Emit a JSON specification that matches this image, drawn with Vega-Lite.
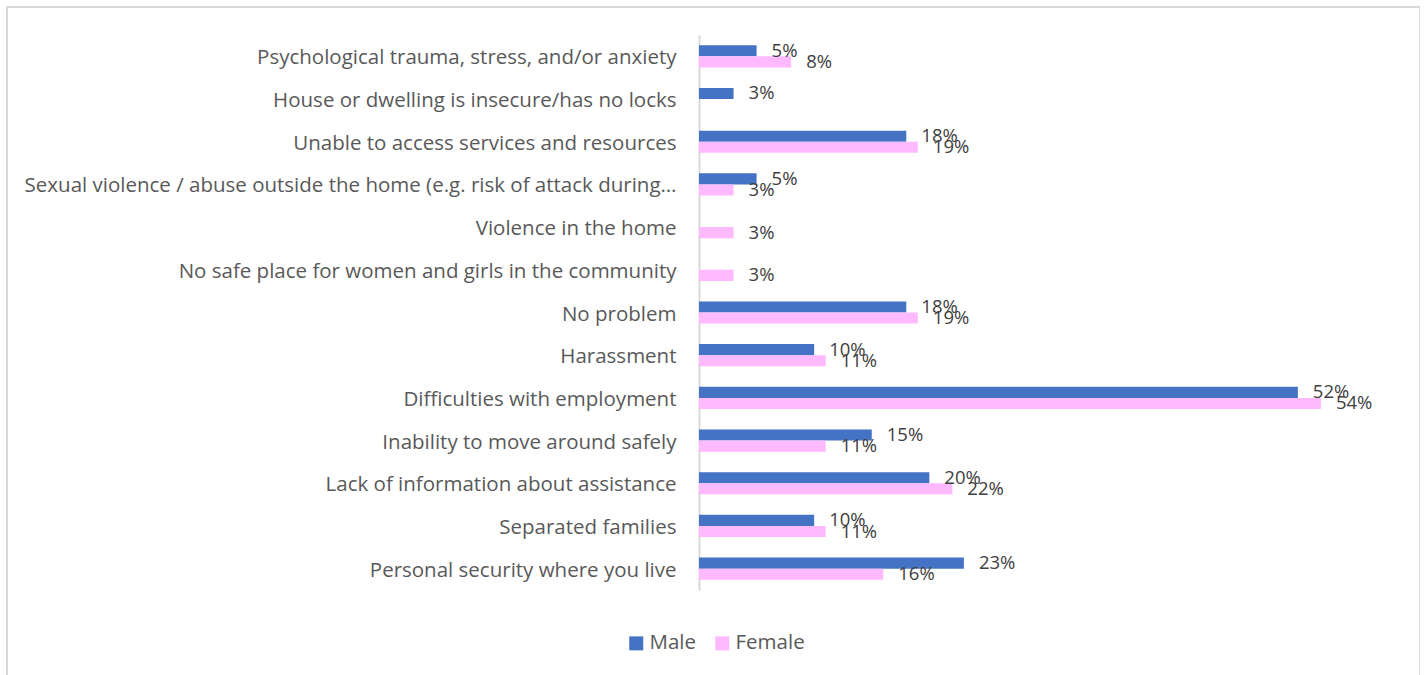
{
  "$schema": "https://vega.github.io/schema/vega-lite/v6.json",
  "width": 1413,
  "height": 670,
  "autosize": {"type": "none"},
  "padding": {"left": 7, "top": 7, "right": 0, "bottom": 0},
  "background": "white",
  "config": {
    "view": {"stroke": "#D9D9D9", "strokeWidth": 2},
    "font": "Open Sans"
  },
  "data": {
    "values": [
      {"issue": "Psychological trauma, stress, and/or anxiety", "sex": "Male", "value": 0.05},
      {"issue": "Psychological trauma, stress, and/or anxiety", "sex": "Female", "value": 0.08},
      {"issue": "House or dwelling is insecure/has no locks", "sex": "Male", "value": 0.03},
      {"issue": "Unable to access services and resources", "sex": "Male", "value": 0.18},
      {"issue": "Unable to access services and resources", "sex": "Female", "value": 0.19},
      {"issue": "Sexual violence / abuse outside the home (e.g. risk of attack during…", "sex": "Male", "value": 0.05},
      {"issue": "Sexual violence / abuse outside the home (e.g. risk of attack during…", "sex": "Female", "value": 0.03},
      {"issue": "Violence in the home", "sex": "Female", "value": 0.03},
      {"issue": "No safe place for women and girls in the community", "sex": "Female", "value": 0.03},
      {"issue": "No problem", "sex": "Male", "value": 0.18},
      {"issue": "No problem", "sex": "Female", "value": 0.19},
      {"issue": "Harassment", "sex": "Male", "value": 0.10},
      {"issue": "Harassment", "sex": "Female", "value": 0.11},
      {"issue": "Difficulties with employment", "sex": "Male", "value": 0.52},
      {"issue": "Difficulties with employment", "sex": "Female", "value": 0.54},
      {"issue": "Inability to move around safely", "sex": "Male", "value": 0.15},
      {"issue": "Inability to move around safely", "sex": "Female", "value": 0.11},
      {"issue": "Lack of information about assistance", "sex": "Male", "value": 0.20},
      {"issue": "Lack of information about assistance", "sex": "Female", "value": 0.22},
      {"issue": "Separated families", "sex": "Male", "value": 0.10},
      {"issue": "Separated families", "sex": "Female", "value": 0.11},
      {"issue": "Personal security where you live", "sex": "Male", "value": 0.23},
      {"issue": "Personal security where you live", "sex": "Female", "value": 0.16}
    ]
  },
  "encoding": {
    "y": {
      "field": "issue",
      "type": "nominal",
      "sort": null,
      "scale": {"range": [28, 583], "paddingInner": 0.48, "paddingOuter": 0.24},
      "axis": {
        "title": null,
        "orient": "left",
        "offset": -692,
        "ticks": false,
        "labelPadding": 23,
        "labelOffset": 2,
        "labelFontSize": 20.5,
        "labelColor": "#595959",
        "labelLimit": 0,
        "domainColor": "#D9D9D9",
        "domainWidth": 2
      }
    },
    "yOffset": {"field": "sex", "type": "nominal", "scale": {"domain": ["Male", "Female"]}},
    "x": {
      "field": "value",
      "type": "quantitative",
      "scale": {"domain": [0, 0.6], "range": [692, 1383], "nice": false},
      "axis": null
    }
  },
  "layer": [
    {
      "mark": {"type": "bar"},
      "encoding": {
        "color": {
          "field": "sex",
          "type": "nominal",
          "scale": {"domain": ["Male", "Female"], "range": ["#4472C4", "#FFB9FF"]},
          "legend": {
            "title": null,
            "orient": "none",
            "direction": "horizontal",
            "legendX": 619,
            "legendY": 626,
            "symbolType": "square",
            "symbolSize": 196,
            "symbolStrokeWidth": 0,
            "labelFontSize": 20.5,
            "labelColor": "#595959",
            "labelOffset": 3,
            "columnPadding": 15,
            "padding": 0
          }
        }
      }
    },
    {
      "mark": {"type": "text", "align": "left", "baseline": "middle", "dx": 15, "fontSize": 18.5, "color": "#404040"},
      "encoding": {
        "text": {"field": "value", "type": "quantitative", "format": ".0%"}
      }
    }
  ]
}
